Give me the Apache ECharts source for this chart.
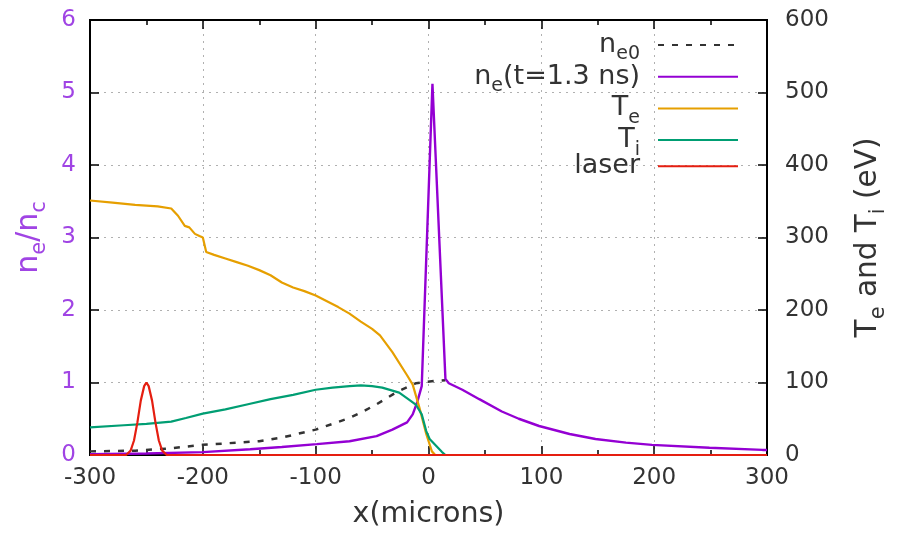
<!DOCTYPE html>
<html>
<head>
<meta charset="utf-8">
<script src="https://cdn.jsdelivr.net/npm/echarts@6/dist/echarts.min.js"></script>
<style>
  html, body { margin: 0; padding: 0; background: #fff; }
  #chart { width: 897px; height: 534px; }
</style>
</head>
<body>
<div id="chart"></div>
<script>
// x positions in microns
const ne0X = [-300, -260, -230, -200, -170, -150, -130, -100, -85, -70, -58, -46, -28, -11, 5, 15];
const ne0Val = [0.05, 0.06, 0.09, 0.14, 0.17, 0.19, 0.24, 0.35, 0.43, 0.51, 0.6, 0.7, 0.87, 0.99, 1.02, 1.03];

const neX = [-300, -250, -200, -158, -130, -99, -70, -46, -32, -19, -14, -10, -6, 3.5, 15, 18, 30, 45, 65, 80, 98, 125, 148, 175, 198, 249, 296, 300];
const neVal = [0.01, 0.02, 0.04, 0.08, 0.11, 0.15, 0.19, 0.26, 0.35, 0.45, 0.56, 0.73, 0.95, 5.12, 1.05, 0.99, 0.9, 0.77, 0.6, 0.5, 0.4, 0.29, 0.22, 0.17, 0.14, 0.1, 0.07, 0.07];

const teX = [-300, -280, -260, -240, -228, -222, -216, -212, -207, -203, -200, -197, -190, -180, -170, -160, -150, -140, -130, -120, -110, -100, -90, -80, -70, -60, -50, -43, -32, -19, -14, -8, -2, 3, 6];
const teVal = [351, 348, 345, 343, 340, 330, 316, 314, 305, 302, 300, 280, 276, 271, 266, 261, 255, 248, 238, 231, 226, 220, 212, 204, 195, 184, 174, 165, 142, 110, 97, 65, 29, 5, 0];

const tiX = [-300, -270, -250, -228, -215, -200, -180, -160, -140, -120, -100, -85, -70, -60, -50, -41, -26, -17, -11, -6, -2, 1, 12, 15];
const tiVal = [38, 41, 43, 46, 51, 57, 63, 70, 77, 83, 90, 93, 95, 96, 95, 93, 86, 76, 69, 56, 33, 22, 4, 0];

const laserX = [-300, -268, -264, -261, -258, -255, -252, -250, -248, -245, -242, -239, -236, -232, 300];
const laserVal = [0, 0, 0.06, 0.2, 0.45, 0.75, 0.95, 1.0, 0.95, 0.75, 0.45, 0.2, 0.06, 0, 0];

const legendNames = ['ne0', 'ne', 'Te', 'Ti', 'laser'];
const legendLabels = {
  ne0: '{n|n}{s|e0}',
  ne: '{n|n}{s|e}{n|(t=1.3 ns)}',
  Te: '{n|T}{s|e}',
  Ti: '{n|T}{s|i}',
  laser: '{n|laser}'
};

const purple = '#9400d3';
const purpleText = '#a044e4';
const font = 'DejaVu Sans';

function pairs(xs, ys) {
  return xs.map((x, i) => [x, ys[i]]);
}

// main text + lowered subscript
function richStyle(size, subSize, color, lh) {
  return {
    n: { fontFamily: font, fontSize: size, color: color, lineHeight: lh },
    s: { fontFamily: font, fontSize: subSize, color: color, lineHeight: subSize, padding: [lh - subSize, 0, 0, 0] }
  };
}

const chart = echarts.init(document.getElementById('chart'));

const gridLine = { show: true, lineStyle: { color: '#b0b0b0', type: [2, 5], width: 1 } };
const tick = { show: true, inside: true, length: 9, lineStyle: { color: '#000', width: 1.5 } };
const axLine = { show: true, onZero: false, lineStyle: { color: '#000', width: 2 } };

chart.setOption({
  animation: false,
  textStyle: { fontFamily: font },
  grid: {
    left: 90, right: 129, top: 20, bottom: 73,
    show: true, borderColor: '#000', borderWidth: 2, backgroundColor: 'transparent'
  },
  legend: {
    data: legendNames,
    orient: 'vertical',
    right: 153,
    top: 21,
    align: 'right',
    itemWidth: 80,
    itemHeight: 14,
    itemGap: -6.3,
    itemStyle: { opacity: 0 },
    formatter: name => legendLabels[name],
    textStyle: {
      padding: [0, 13, 0, 0],
      rich: richStyle(27, 19, '#333', 38)
    }
  },
  xAxis: [
    {
      type: 'value', min: -300, max: 300, interval: 100,
      name: 'x(microns)', nameLocation: 'middle', nameGap: 45,
      nameTextStyle: { fontFamily: font, fontSize: 28.5, color: '#333' },
      axisLine: axLine,
      axisTick: tick,
      minorTick: { show: true, splitNumber: 2, length: 5, lineStyle: { color: '#000', width: 1.5 } },
      axisLabel: { fontFamily: font, fontSize: 23, color: '#333', margin: 12 },
      splitLine: gridLine
    },
    {
      type: 'value', min: -300, max: 300, interval: 100, position: 'top',
      axisLine: axLine,
      axisTick: tick,
      minorTick: { show: true, splitNumber: 2, length: 5, lineStyle: { color: '#000', width: 1.5 } },
      axisLabel: { show: false },
      splitLine: { show: false }
    }
  ],
  yAxis: [
    {
      type: 'value', min: 0, max: 6, interval: 1, position: 'left',
      name: '{n|n}{s|e}{n|/n}{s|c}', nameLocation: 'middle', nameGap: 40, nameRotate: 90,
      nameTextStyle: { rich: richStyle(30, 21, purpleText, 41) },
      axisLine: axLine,
      axisTick: tick,
      axisLabel: { fontFamily: font, fontSize: 23, color: purpleText, margin: 14 },
      splitLine: gridLine
    },
    {
      type: 'value', min: 0, max: 600, interval: 100, position: 'right',
      name: '{n|T}{s|e}{n| and T}{s|i}{n| (eV)}', nameLocation: 'middle', nameGap: 81, nameRotate: 90,
      nameTextStyle: { rich: richStyle(29.5, 21, '#333', 41) },
      axisLine: axLine,
      axisTick: tick,
      axisLabel: { fontFamily: font, fontSize: 23, color: '#333', margin: 18 },
      splitLine: { show: false }
    }
  ],
  series: [
    {
      name: 'ne0', type: 'line', yAxisIndex: 0, showSymbol: false, symbol: 'none',
      data: pairs(ne0X, ne0Val),
      lineStyle: { color: '#333', width: 2.5, type: [6, 8] },
      itemStyle: { color: '#333' }
    },
    {
      name: 'ne', type: 'line', yAxisIndex: 0, showSymbol: false, symbol: 'none',
      data: pairs(neX, neVal),
      lineStyle: { color: purple, width: 2.4 },
      itemStyle: { color: purple }
    },
    {
      name: 'Te', type: 'line', yAxisIndex: 1, showSymbol: false, symbol: 'none',
      data: pairs(teX, teVal),
      lineStyle: { color: '#e69f00', width: 2.2 },
      itemStyle: { color: '#e69f00' }
    },
    {
      name: 'Ti', type: 'line', yAxisIndex: 1, showSymbol: false, symbol: 'none',
      data: pairs(tiX, tiVal),
      lineStyle: { color: '#009e73', width: 2.2 },
      itemStyle: { color: '#009e73' }
    },
    {
      name: 'laser', type: 'line', yAxisIndex: 0, showSymbol: false, symbol: 'none',
      data: pairs(laserX, laserVal),
      lineStyle: { color: '#e51e10', width: 2.2 },
      itemStyle: { color: '#e51e10' }
    }
  ]
});
</script>
</body>
</html>
